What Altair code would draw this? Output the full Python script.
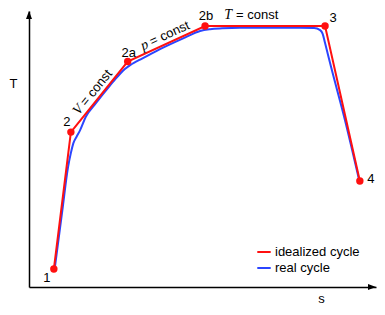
import altair as alt
import pandas as pd

# ---- data (arbitrary s / T units) ----
POINT_LABELS = ["1", "2", "2a", "2b", "3", "4"]
S_IDEAL = [0.70, 1.18, 2.78, 4.96, 8.34, 9.32]
T_IDEAL = [0.62, 5.36, 7.80, 9.03, 9.03, 3.67]

S_REAL = [0.73, 0.94, 1.10, 1.18, 1.25, 1.34, 1.44, 1.60, 1.89, 2.28, 2.56, 2.70,
          2.85, 2.99, 3.13, 3.41, 3.69, 4.39, 4.82, 5.10, 5.44, 5.94, 7.63, 8.03,
          8.20, 8.27, 8.34, 8.51, 8.90, 9.30]
T_REAL = [0.69, 2.66, 4.15, 4.64, 4.98, 5.20, 5.43, 5.89, 6.37, 6.97, 7.37, 7.54,
          7.68, 7.78, 7.87, 8.05, 8.23, 8.63, 8.86, 8.92, 8.95, 8.97, 8.97, 8.96,
          8.89, 8.77, 8.44, 7.61, 5.78, 3.70]

SERIES = ["idealized cycle", "real cycle"]
COLORS = ["#ff1010", "#2b45ff"]

S_MAX = 9.775
T_MAX = 9.55

FONT = "Liberation Sans"
MATH_FONT = "Liberation Serif"

ideal = pd.DataFrame({"s": S_IDEAL, "T": T_IDEAL, "label": POINT_LABELS,
                      "order": range(len(S_IDEAL)), "cycle": SERIES[0]})
real = pd.DataFrame({"s": S_REAL, "T": T_REAL, "order": range(len(S_REAL)),
                     "cycle": SERIES[1]})

xenc = alt.X("s:Q", scale=alt.Scale(domain=[0, S_MAX], nice=False, zero=False),
             axis=alt.Axis(title="s", titleX=292, titleY=11, titleAngle=0,
                           titleAlign="center", titleBaseline="middle"))
yenc = alt.Y("T:Q", scale=alt.Scale(domain=[0, T_MAX], nice=False, zero=False),
             axis=alt.Axis(title="T", titleX=-16, titleY=72, titleAngle=0,
                           titleAlign="center", titleBaseline="middle"))
color = alt.Color("cycle:N", scale=alt.Scale(domain=SERIES, range=COLORS),
                  legend=alt.Legend(title=None, orient="none", legendX=227, legendY=233,
                                    symbolType="stroke", symbolSize=180,
                                    symbolStrokeWidth=2, labelFontSize=13,
                                    labelFont=FONT, labelOffset=3, rowPadding=1,
                                    padding=0, labelColor="black"))

blue_line = alt.Chart(real).mark_line(strokeWidth=2, interpolate="monotone").encode(
    x=xenc, y=yenc, color=color, order="order:Q")
red_line = alt.Chart(ideal).mark_line(strokeWidth=2).encode(
    x=xenc, y=yenc, color=color, order="order:Q")
red_pts = alt.Chart(ideal).mark_circle(size=55, opacity=1, color=COLORS[0]).encode(
    x=xenc, y=yenc)

# point labels (offsets are styling)
OFFSETS = {"1": (-7, 9), "2": (-4, -10), "2a": (1, -9), "2b": (1, -10),
           "3": (8, -8), "4": (11, -2)}
label_layers = []
for lab in POINT_LABELS:
    dx, dy = OFFSETS[lab]
    label_layers.append(
        alt.Chart(ideal).transform_filter(alt.datum.label == lab)
        .mark_text(font=FONT, fontSize=13, dx=dx, dy=dy, align="center",
                   baseline="middle", color="black")
        .encode(x=xenc, y=yenc, text="label:N"))

# process annotations at segment midpoints
def mid(i, j):
    return pd.DataFrame({"s": [(S_IDEAL[i] + S_IDEAL[j]) / 2],
                         "T": [(T_IDEAL[i] + T_IDEAL[j]) / 2]})

ann = []
specs = [
    (mid(1, 2), "V", -51, -19, -16),
    (mid(2, 3), "p", -24.6, -17, -14),
    (mid(3, 4), "T", 0, -33, -29),
]
for df, var, ang, dvar, drest in specs:
    a = ang % 360
    dy = -7 if ang == 0 else -4
    ann.append(alt.Chart(df).mark_text(text=var, font=MATH_FONT, fontStyle="italic",
                                       fontSize=14, angle=a, align="right",
                                       baseline="alphabetic", dx=dvar, dy=dy,
                                       color="black").encode(x=xenc, y=yenc))
    ann.append(alt.Chart(df).mark_text(text="= const", font=FONT, fontSize=13, angle=a,
                                       align="left", baseline="alphabetic", dx=drest,
                                       dy=dy, color="black").encode(x=xenc, y=yenc))

# axis arrowheads at the ends of the scale domains
arrow_up = alt.Chart(pd.DataFrame({"s": [0.0], "T": [T_MAX]})).mark_point(
    shape="M0,0L0.75,2L-0.75,2Z", filled=True, size=64, color="black", opacity=1
).encode(x=xenc, y=yenc)
arrow_right = alt.Chart(pd.DataFrame({"s": [S_MAX], "T": [0.0]})).mark_point(
    shape="M0,0L-2,-0.75L-2,0.75Z", filled=True, size=64, color="black", opacity=1
).encode(x=xenc, y=yenc)

chart = alt.layer(blue_line, red_line, red_pts, *label_layers, *ann,
                  arrow_up, arrow_right).properties(
    width=347, height=276, autosize="none",
    padding={"left": 21, "top": 3, "right": 1, "bottom": 18},
).configure_view(stroke=None).configure_axis(
    domainColor="black", domainWidth=1.5, ticks=False, labels=False, grid=False,
    titleFont=FONT, titleFontSize=13, titleFontWeight="normal", titleColor="black",
)

chart.save("out.html", embed_options={"renderer": "svg", "actions": False})
